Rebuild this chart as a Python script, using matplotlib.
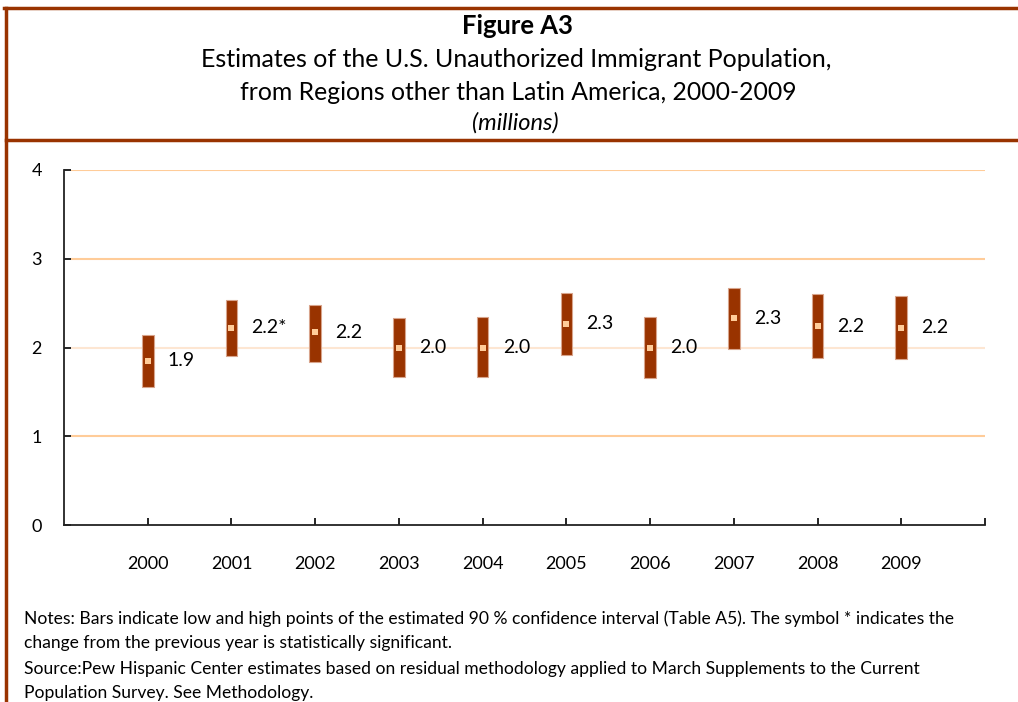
import matplotlib
matplotlib.use("Agg")
import matplotlib.pyplot as plt
from matplotlib.lines import Line2D

years = ["2000", "2001", "2002", "2003", "2004", "2005", "2006", "2007", "2008", "2009"]
low = [1.55, 1.90, 1.84, 1.67, 1.67, 1.92, 1.66, 1.98, 1.88, 1.87]
high = [2.14, 2.54, 2.48, 2.33, 2.34, 2.61, 2.34, 2.67, 2.60, 2.58]
estimate = [1.85, 2.22, 2.17, 2.00, 2.00, 2.27, 2.00, 2.33, 2.24, 2.22]
value_labels = ["1.9", "2.2*", "2.2", "2.0", "2.0", "2.3", "2.0", "2.3", "2.2", "2.2"]
y_ticks = [0, 1, 2, 3, 4]

title_bold = "Figure A3"
title_lines = ["Estimates of the U.S. Unauthorized Immigrant Population,",
               "from Regions other than Latin America, 2000-2009"]
subtitle = "(millions)"
notes = ["Notes: Bars indicate low and high points of the estimated 90 % confidence interval (Table A5). The symbol * indicates the",
         "change from the previous year is statistically significant.",
         "Source:Pew Hispanic Center estimates based on residual methodology applied to March Supplements to the Current",
         "Population Survey. See Methodology."]

FONT = "Lato"
plt.rcParams['font.family'] = [FONT, 'DejaVu Sans']

W, H = 1018, 702
fig = plt.figure(figsize=(W / 100, H / 100), dpi=100)
fig.patch.set_facecolor("white")

BROWN = "#993300"
PEACH = "#FFCC99"

renderer = fig.canvas.get_renderer()


def fit_size(s, target_w, **kw):
    t = fig.text(0, 0, s, fontsize=10, **kw)
    w = t.get_window_extent(renderer=renderer).width
    t.remove()
    return 10 * target_w / w


def put(x, y, s, size, ha="left", va="baseline", **kw):
    return fig.text(x / W, 1 - y / H, s, ha=ha, va=va, fontsize=size, **kw)


# border lines
fig.add_artist(Line2D([4 / W, 1], [1 - 8 / H, 1 - 8 / H], color=BROWN, lw=2.5, transform=fig.transFigure))
fig.add_artist(Line2D([6 / W, 1], [1 - 140 / H, 1 - 140 / H], color=BROWN, lw=2.5, transform=fig.transFigure))
fig.add_artist(Line2D([6 / W, 6 / W], [0, 1 - 8 / H], color=BROWN, lw=2.5, transform=fig.transFigure))

# titles
put(517, 34, title_bold, fit_size(title_bold, 111, fontweight="bold"), ha="center", fontweight="bold")
put(516, 67, title_lines[0], fit_size(title_lines[0], 633), ha="center")
put(518, 100, title_lines[1], fit_size(title_lines[1], 557), ha="center")
put(515, 130, subtitle, fit_size(subtitle, 87, fontstyle="italic"), ha="center", fontstyle="italic")

# notes
note_size = 0.5 * (fit_size(notes[0], 928) + fit_size(notes[2], 901))
note_y = [624, 648, 674, 698]
for s, yy in zip(notes, note_y):
    put(24, yy, s, note_size)

# axes
ax = fig.add_axes([64 / W, 1 - 525 / H, (985 - 64) / W, (525 - 170) / H])
x = list(range(len(years)))
ax.set_xlim(-1, 10)
ax.set_ylim(0, 4)

heights = [h - l for h, l in zip(high, low)]
ax.bar(x, heights, bottom=low, width=0.14, color=BROWN, edgecolor="#D8A48C", linewidth=0.8, zorder=3)
ax.scatter(x, estimate, marker="s", s=18, color=PEACH, zorder=4, linewidths=0)
for xi, yi, lab in zip(x, estimate, value_labels):
    ax.text(xi + 0.24, yi, lab, ha="left", va="center", fontsize=14, color="black", zorder=5)

ax.set_yticks(y_ticks)
ax.set_yticklabels([str(v) for v in y_ticks], fontsize=13)
ax.set_xticks(x + [10])
ax.set_xticklabels(years + [""], fontsize=13)
ax.tick_params(axis="both", direction="in", length=5, width=1.2, color="black")
ax.tick_params(axis="y", pad=16)
ax.tick_params(axis="x", pad=22)

for sp in ["top", "right"]:
    ax.spines[sp].set_visible(False)
for sp in ["left", "bottom"]:
    ax.spines[sp].set_color("#222222")
    ax.spines[sp].set_linewidth(1.3)

for yv in y_ticks[1:]:
    col = "#FDE6D2" if yv == 2 else PEACH
    ax.axhline(yv, xmin=8 / 921, xmax=1, color=col, lw=1.5, zorder=1)

fig.savefig("out.png", dpi=100)
